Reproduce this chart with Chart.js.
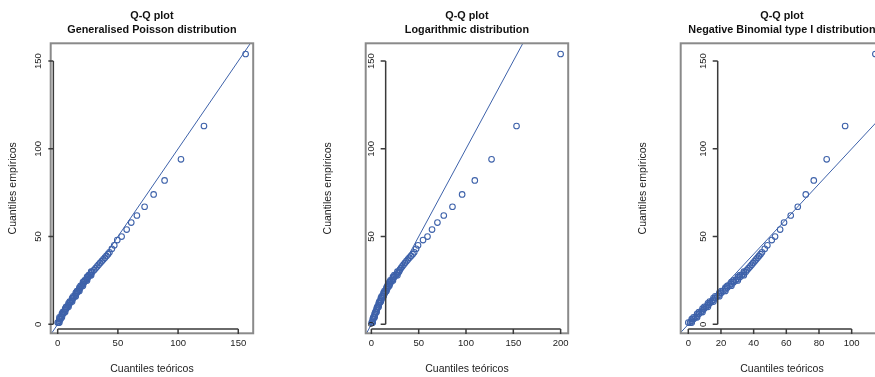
<!DOCTYPE html>
<html lang="es">
<head>
<meta charset="UTF-8">
<title>Q-Q plots</title>
<script src="https://cdn.jsdelivr.net/npm/chart.js"></script>
<style>
  html, body { margin: 0; padding: 0; background: #fff; overflow: hidden; }
  #figura { position: relative; width: 875px; height: 377px; overflow: hidden; }
  .panel { position: absolute; top: 0; width: 315px; height: 377px; }
</style>
</head>
<body>
<div id="figura">
  <div class="panel" style="left:0px"><canvas id="qqGP" width="315" height="377"></canvas></div>
  <div class="panel" style="left:315px"><canvas id="qqLog" width="315" height="377"></canvas></div>
  <div class="panel" style="left:630px"><canvas id="qqNB" width="315" height="377"></canvas></div>
</div>
<script>
// cuantiles empiricos (los mismos en los tres graficos)
const cuantilesEmp = [
  1, 1, 1, 2, 3, 3,
  4, 4, 4, 5, 6, 6,
  7, 7, 7, 8, 9, 9,
  10, 10, 10, 11, 12, 12,
  13, 13, 13, 14, 15, 15,
  16, 16, 16, 17, 18, 18,
  19, 19, 19, 20, 21, 21,
  22, 22, 22, 23, 24, 24,
  25, 25, 25, 26, 27, 27,
  28, 28, 28, 29, 30, 30,
  31, 32, 33, 34, 35, 36, 37, 38, 39, 40, 41, 43, 45,
  48, 50, 54, 58, 62, 67, 74, 82, 94, 113, 154];

// cuantiles teoricos de cada ajuste
const cuantilesGP = [
  0.0, 0.7, 1.4, 1.4, 1.4, 2.4,
  1.5, 2.5, 3.5, 3.5, 3.5, 4.5,
  4.2, 5.2, 6.2, 6.2, 6.2, 7.2,
  7.0, 8.0, 9.0, 9.0, 9.0, 10.0,
  10.0, 11.0, 12.0, 12.0, 12.0, 13.0,
  13.0, 14.0, 15.0, 15.0, 15.0, 16.0,
  16.0, 17.0, 18.0, 18.0, 18.0, 19.0,
  19.0, 20.0, 21.0, 21.0, 21.0, 22.0,
  22.4, 23.4, 24.4, 24.4, 24.4, 25.4,
  25.8, 26.8, 27.8, 27.8, 27.8, 28.8,
  30.3, 31.5, 32.8, 34.0, 35.3, 36.6, 37.9, 39.2, 40.5, 41.8, 43.0, 45.0, 47.0,
  49.5, 53.1, 57.3, 61.1, 65.8, 72.2, 79.7, 88.8, 102.4, 121.5, 156.1];

const cuantilesLog = [
  0.3, 0.87, 1.43, 1.43, 1.43, 2.0,
  2.0, 2.7, 3.4, 3.4, 3.4, 4.1,
  4.1, 4.8, 5.5, 5.5, 5.5, 6.2,
  6.2, 6.9, 7.7, 7.7, 7.7, 8.4,
  8.4, 9.2, 10.0, 10.0, 10.0, 10.8,
  10.8, 11.8, 12.8, 12.8, 12.8, 13.8,
  13.8, 14.8, 15.9, 15.9, 15.9, 16.9,
  16.9, 18.0, 19.0, 19.0, 19.0, 20.1,
  20.1, 21.5, 22.8, 22.8, 22.8, 24.2,
  24.2, 25.9, 27.5, 27.5, 27.5, 29.2,
  30.0, 31.2, 32.6, 34.0, 35.5, 37.0, 38.6, 40.2, 41.9, 43.6, 45.3, 47.3, 49.3,
  54.6, 59.3, 64.1, 69.8, 76.5, 85.7, 95.9, 109.3, 127.0, 153.4, 200.0];

const cuantilesNB = [
  0.0, 1.1, 2.1, 2.1, 2.1, 3.2,
  3.2, 4.3, 5.4, 5.4, 5.4, 6.5,
  6.5, 7.6, 8.7, 8.7, 8.7, 9.8,
  9.8, 10.9, 12.0, 12.0, 12.0, 13.1,
  13.1, 14.2, 15.4, 15.4, 15.4, 16.5,
  16.5, 17.7, 19.0, 19.0, 19.0, 20.2,
  20.2, 21.4, 22.7, 22.7, 22.7, 23.9,
  23.9, 25.2, 26.4, 26.4, 26.4, 27.7,
  27.7, 29.0, 30.3, 30.3, 30.3, 31.6,
  31.6, 32.8, 34.0, 34.0, 34.0, 35.2,
  36.0, 36.9, 37.9, 38.8, 39.7, 40.6, 41.5, 42.4, 43.3, 44.2, 45.1, 46.8, 48.4,
  51.1, 53.1, 56.2, 58.6, 62.7, 67.0, 71.9, 76.8, 84.7, 96.0, 114.5];

// marcas de los ejes
const ticksY = [0, 50, 100, 150];
const ticksGP = [0, 50, 100, 150];
const ticksLog = [0, 50, 100, 150, 200];
const ticksNB = [0, 20, 40, 60, 80, 100];

const titulos = ['Generalised Poisson distribution', 'Logarithmic distribution', 'Negative Binomial type I distribution'];

// limites de los ejes
const limY = [-5.1, 160.1];
const limGP = [-5.8, 162.4];
const limLog = [-6.0, 208.0];
const limNB = [-4.65, 119.3];

const azul = 'rgb(62, 98, 170)';

// cajas y ejes al estilo de graficos base de R
const ejesR = {
  id: 'ejesR',
  afterDraw(chart, args, opts) {
    const { ctx, chartArea: a, scales: { x, y } } = chart;
    const cx = (a.left + a.right) / 2;
    ctx.save();

    // caja
    ctx.strokeStyle = '#8a8a8a';
    ctx.lineWidth = 2;
    ctx.strokeRect(a.left, a.top, a.right - a.left, a.bottom - a.top);

    ctx.strokeStyle = '#3a3a3a';
    ctx.lineWidth = 1.5;
    ctx.fillStyle = '#222';

    // eje x
    const yEje = y.getPixelForValue(opts.ejeX);
    const xt = opts.ticksX;
    ctx.beginPath();
    ctx.moveTo(x.getPixelForValue(xt[0]), yEje);
    ctx.lineTo(x.getPixelForValue(xt[xt.length - 1]), yEje);
    xt.forEach(v => {
      const px = x.getPixelForValue(v);
      ctx.moveTo(px, yEje);
      ctx.lineTo(px, yEje + 5);
    });
    ctx.stroke();
    ctx.font = '9.5px "Liberation Sans", Arial, sans-serif';
    ctx.textAlign = 'center';
    ctx.textBaseline = 'middle';
    xt.forEach(v => ctx.fillText(String(v), x.getPixelForValue(v), 343.5));

    // eje y
    const xEje = x.getPixelForValue(opts.ejeY);
    ctx.beginPath();
    ctx.moveTo(xEje, y.getPixelForValue(ticksY[0]));
    ctx.lineTo(xEje, y.getPixelForValue(ticksY[ticksY.length - 1]));
    ticksY.forEach(v => {
      const py = y.getPixelForValue(v);
      ctx.moveTo(xEje, py);
      ctx.lineTo(xEje - 5, py);
    });
    ctx.stroke();
    ticksY.forEach(v => {
      ctx.save();
      ctx.translate(xEje - 14.5, y.getPixelForValue(v));
      ctx.rotate(-Math.PI / 2);
      ctx.fillText(String(v), 0, 0);
      ctx.restore();
    });

    // titulos
    ctx.fillStyle = '#111';
    ctx.font = 'bold 10.8px "Liberation Sans", Arial, sans-serif';
    ctx.fillText('Q-Q plot', cx, 16);
    ctx.fillText(opts.titulo, cx, 30);

    ctx.font = '10.5px "Liberation Sans", Arial, sans-serif';
    ctx.fillStyle = '#222';
    ctx.fillText('Cuantiles teóricos', cx, 369.5);
    ctx.save();
    ctx.translate(a.left - 37.4, (a.top + a.bottom) / 2);
    ctx.rotate(-Math.PI / 2);
    ctx.fillText('Cuantiles empíricos', 0, 0);
    ctx.restore();

    ctx.restore();
  }
};

function graficoQQ(id, teoricos, limX, ticksX, titulo, ejeY) {
  const puntos = teoricos.map((v, i) => ({ x: v, y: cuantilesEmp[i] }));
  // recta y = x
  const lo = Math.min(limX[0], limY[0]);
  const hi = Math.max(limX[1], limY[1]);
  return new Chart(document.getElementById(id), {
    type: 'scatter',
    data: {
      datasets: [
        {
          type: 'line',
          data: [{ x: lo, y: lo }, { x: hi, y: hi }],
          borderColor: azul,
          borderWidth: 1,
          pointRadius: 0,
          clip: 0,
          order: 0
        },
        {
          data: puntos,
          pointStyle: 'circle',
          pointRadius: 2.8,
          pointBorderWidth: 1.1,
          borderColor: azul,
          backgroundColor: 'rgba(0,0,0,0)',
          order: 1
        }
      ]
    },
    options: {
      responsive: false,
      animation: false,
      events: [],
      layout: { padding: { left: 50.7, right: 61.8, top: 43.3, bottom: 43.7 } },
      scales: {
        x: { type: 'linear', min: limX[0], max: limX[1], display: false },
        y: { type: 'linear', min: limY[0], max: limY[1], display: false }
      },
      plugins: {
        legend: { display: false },
        tooltip: { enabled: false },
        ejesR: { ticksX: ticksX, titulo: titulo, ejeX: -2.6, ejeY: ejeY }
      }
    },
    plugins: [ejesR]
  });
}

graficoQQ('qqGP', cuantilesGP, limGP, ticksGP, titulos[0], -3.6);
graficoQQ('qqLog', cuantilesLog, limLog, ticksLog, titulos[1], 15.1);
graficoQQ('qqNB', cuantilesNB, limNB, ticksNB, titulos[2], 18.0);
</script>
</body>
</html>
